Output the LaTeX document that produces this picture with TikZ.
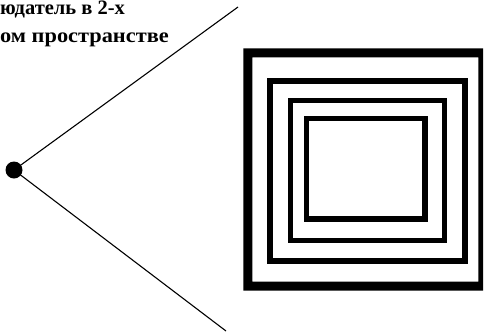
\documentclass[tikz,border=0pt]{standalone}
\usepackage{fontspec}
\setmainfont{Liberation Serif}
\begin{document}
\begin{tikzpicture}[x=1pt,y=-1pt,
  frame/.style={draw=black,line width=5.5pt},
  ray/.style={draw=black,line width=1.1pt},
  caption/.style={font=\bfseries\fontsize{20.5}{24}\selectfont,inner sep=0pt,anchor=base west}]
\useasboundingbox (0,0) rectangle (486,333);
% caption
\node[caption] (t1) at (0,14.8) {юдатель в 2-х};
\node[caption,xscale=1.09,transform shape] (t2) at (0,42) {ом пространстве};
% observer
\node[circle,fill=black,minimum size=17pt,inner sep=0pt] (eye) at (14,170) {};
\coordinate (up) at (238,7);
\coordinate (down) at (226,331);
\draw[ray] (eye.center) -- (up);
\draw[ray] (eye.center) -- (down);
% outer frame
\fill[black,even odd rule] (243.3,48.3) rectangle (483,290.7) (252.3,57.3) rectangle (478.3,281.7);
% nested frames
\draw[frame] (270,80.8) rectangle (464.8,260.8);
\draw[frame] (290.5,100.5) rectangle (444.5,240.5);
\draw[frame] (306.5,118.5) rectangle (424.8,218.8);
\end{tikzpicture}
\end{document}
